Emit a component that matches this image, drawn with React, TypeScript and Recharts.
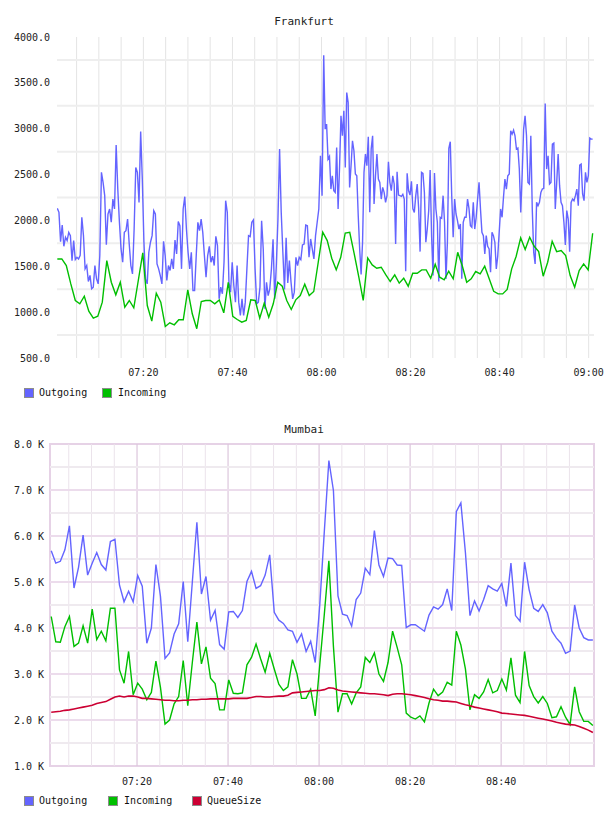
import React from "react";
import { LineChart, Line, XAxis, YAxis, ReferenceLine, ReferenceArea } from "recharts";

// ---- Frankfurt: minutes after 07:00 ----
const FRA_START = 0.67;
const FRA_MID = 60.5;
const FRA_END = 120.9;

// Outgoing rate, first hour (07:00 – 08:00, ends on the 3800 spike)
const fraOutgoingFirstHour = [
  2132, 2088, 1769, 1950, 1718, 1816, 1780, 1870, 1834, 1562, 1780, 1573, 1598, 1580, 1620, 2034,
  1834, 1472, 1508, 1334, 1400, 1254, 1272, 1508, 1363, 1308, 1617, 2524, 2415, 2270, 1736, 2070,
  2125, 1980, 2233, 2125, 2821, 2343, 1980, 1689, 1544, 1870, 1888, 2015, 1743, 1508, 1417, 1906,
  2578, 2524, 2197, 2970, 2451, 1762, 1363, 1308, 1653, 1762, 1834, 2107, 2070, 1526, 1472, 1399,
  1308, 1773, 1617, 1345, 1508, 1454, 1580, 1472, 1787, 1635, 1987, 1943, 1472, 2125, 2259, 1906,
  1653, 1472, 1653, 1236, 1236, 1617, 1980, 1888, 2015, 1870, 1617, 1381, 1617, 1718, 1544, 1610,
  1508, 1827, 1725, 1145, 1272, 1200, 1544, 2215, 2088, 1326, 1218, 1544, 1290, 1109, 1508, 1109,
  964, 1145, 964, 1109, 1472, 1834, 1823, 1980, 2006, 1472, 1091, 1109, 1272, 1997, 1689, 1036,
  1326, 1181, 1254, 1472, 1794, 1145, 1508, 2015, 2778, 2088, 1653, 1247, 1812, 1319, 1562, 1326,
  1145, 1218, 1598, 1508, 1598, 1573, 1733, 1743, 1950, 1943, 1598, 1798, 1689, 1580, 1834, 1980,
  2125, 2705, 2270, 3800,
];

// Outgoing rate, second hour (08:00 – 09:00)
const fraOutgoingSecondHour = [
  2995, 3050, 2669, 2698, 2342, 2487, 2324, 2306, 2796, 2125, 2578, 3140, 2923, 3195, 2578, 3394,
  3286, 2360, 2596, 2868, 2760, 2506, 2487, 2052, 1689, 1410, 1762, 2524, 2723, 2596, 2912, 2088,
  2778, 2923, 2179, 2487, 2723, 2451, 2415, 2233, 2360, 2306, 2197, 2270, 2640, 2415, 2324, 2487,
  2397, 1744, 2531, 2277, 2270, 2263, 2284, 2233, 1446, 2513, 2324, 2277, 2426, 2125, 2088, 2270,
  2397, 2132, 1660, 2524, 2513, 2306, 1762, 1906, 2107, 2549, 1834, 1399, 2516, 2125, 1980, 1334,
  2034, 2023, 2270, 1980, 1363, 1762, 2785, 2858, 2270, 1816, 2233, 2070, 1997, 1906, 1961, 1363,
  1980, 2034, 2034, 2233, 2132, 1943, 1925, 2197, 1906, 2034, 2233, 2415, 2125, 1870, 1834, 1635,
  1834, 1718, 1689, 1435, 1870, 1834, 1762, 1472, 1610, 1870, 2125, 2034, 2252, 2451, 2342, 2487,
  2506, 2977, 2941, 2984, 2923, 2778, 2789, 2560, 2088, 2506, 2995, 3140, 2923, 2415, 2397, 2923,
  2125, 1653, 1526, 2197, 2161, 2197, 2306, 2342, 2350, 3275, 2560, 2705, 2397, 2415, 2832, 2843,
  2125, 2415, 2723, 2379, 2197, 2161, 1980, 1733, 2107, 2015, 1660, 2197, 2233, 2215, 2270, 2342,
  2161, 2603, 2614, 2288, 2215, 2524, 2415, 2487, 2897, 2886, 2886,
];

// Incoming rate, one sample per minute
const fraIncoming = [
  1580, 1580, 1508, 1308, 1127, 1091, 1174, 1011, 934, 956, 1109, 1562, 1326, 1189, 1326, 1054,
  1127, 1047, 1345, 1646, 1072, 902, 1207, 1109, 844, 884, 862, 917, 917, 1243, 982, 819, 1116,
  1127, 1127, 1091, 1134, 993, 1326, 953, 920, 891, 909, 1134, 1127, 934, 1098, 945, 1091, 1326,
  1283, 1127, 1029, 1134, 1181, 1305, 1181, 1225, 1544, 1871, 1780, 1588, 1461, 1598, 1863, 1871,
  1635, 1388, 1127, 1591, 1515, 1479, 1490, 1410, 1334, 1406, 1316, 1370, 1283, 1424, 1424, 1461,
  1461, 1370, 1522, 1381, 1352, 1446, 1363, 1653, 1508, 1326, 1363, 1443, 1417, 1501, 1363, 1228,
  1199, 1199, 1247, 1472, 1610, 1809, 1682, 1816, 1718, 1660, 1392, 1544, 1773, 1660, 1671, 1617,
  1399, 1272, 1454, 1526, 1461, 1860,
];

const fraYTicks = [500, 1000, 1500, 2000, 2500, 3000, 3500, 4000];
const fraGridValues = [750, 1250, 1750, 2250, 2750, 3250, 3750];
const fraTimeTicks = [20, 40, 60, 80, 100, 120];

// ---- Mumbai: one sample per minute from 07:01 ----
const MUM_START = 1.15;

const mumOutgoing = [
  5680, 5410, 5450, 5700, 6220, 4870, 5320, 6020, 5150, 5410,
  5640, 5380, 5260, 5880, 5930, 4930, 4570, 4800, 4570, 5140,
  4910, 3670, 4000, 5380, 4690, 3340, 3460, 3870, 4090, 5010,
  3700, 5000, 6300, 4740, 5120, 4170, 4380, 3640, 3540, 4350,
  4360, 4230, 4380, 5010, 5230, 4860, 4920, 5150, 5590, 4340,
  4170, 4100, 3960, 3930, 3690, 3870, 3490, 3710, 3250, 4500,
  6100, 7640, 6990, 4700, 4300, 4270, 4040, 4620, 4760, 5300,
  5160, 6120, 5370, 5120, 5520, 5510, 5370, 5360, 4010, 4070,
  4070, 4000, 3930, 4280, 4460, 4410, 4510, 4850, 4380, 6530,
  6720, 5640, 4270, 4590, 4370, 4620, 4920, 4850, 4800, 4970,
  4470, 5410, 4270, 4150, 5430, 4830, 4430, 4360, 4510, 4330,
  3930, 3780, 3670, 3450, 3500, 4500, 4000, 3790, 3740, 3740,
];

const mumIncoming = [
  4250, 3700, 3690, 4030, 4250, 3600, 3670, 4050, 3670, 4410,
  3750, 3930, 3720, 4430, 4430, 3090, 2800, 3490, 2550, 2800,
  2670, 2440, 2600, 3280, 2710, 1910, 2000, 2350, 2510, 3290,
  2310, 3250, 4130, 3220, 3590, 2910, 2790, 2220, 2220, 2870,
  2580, 2570, 2590, 3200, 3360, 3650, 3330, 3040, 3450, 3110,
  2780, 2640, 2720, 3310, 3000, 2470, 2470, 2670, 2090, 3200,
  4300, 5460, 3600, 2170, 2570, 2570, 2350, 2590, 2720, 3360,
  3250, 3460, 3000, 2840, 3250, 3930, 3580, 3200, 2150, 2060,
  2020, 2090, 1960, 2370, 2670, 2530, 2610, 2820, 2760, 3930,
  3630, 3110, 2220, 2550, 2470, 2610, 2880, 2590, 2640, 2890,
  2650, 3350, 2540, 2380, 3490, 2750, 2510, 2370, 2510, 2360,
  2050, 2070, 2290, 2060, 1900, 2720, 2180, 1970, 1970, 1880,
];

const mumQueueSize = [
  2170, 2180, 2190, 2210, 2220, 2240, 2260, 2280, 2300, 2320,
  2360, 2380, 2400, 2450, 2500, 2520, 2500, 2520, 2520, 2500,
  2470, 2470, 2460, 2450, 2440, 2430, 2430, 2420, 2420, 2430,
  2430, 2440, 2440, 2450, 2450, 2460, 2460, 2460, 2460, 2460,
  2470, 2470, 2470, 2470, 2490, 2510, 2510, 2500, 2500, 2510,
  2520, 2520, 2540, 2590, 2600, 2610, 2620, 2630, 2640, 2640,
  2660, 2700, 2690, 2650, 2630, 2620, 2610, 2600, 2590, 2580,
  2570, 2570, 2560, 2550, 2530, 2560, 2570, 2570, 2560, 2550,
  2530, 2510, 2490, 2460, 2440, 2430, 2410, 2410, 2400, 2390,
  2360, 2330, 2310, 2280, 2260, 2240, 2220, 2200, 2180, 2150,
  2140, 2130, 2120, 2110, 2100, 2080, 2060, 2040, 2020, 2000,
  1980, 1950, 1930, 1910, 1900, 1890, 1860, 1820, 1780, 1730,
];

const mumYTicks = [1000, 2000, 3000, 4000, 5000, 6000, 7000, 8000];
const mumHalfGrid = [1500, 2500, 3500, 4500, 5500, 6500, 7500];
const mumWholeGrid = [2000, 3000, 4000, 5000, 6000, 7000];
const mumTimeTicks = [20, 40, 60, 80, 100];

// ---- helpers ----
const FONT = '"DejaVu Sans Mono", monospace';
const BLUE = "#6464ff";
const GREEN = "#00bf00";
const RED = "#cc0033";

type Pt = { t: number; v: number };

const spread = (values: number[], from: number, to: number, includeFrom = true): Pt[] => {
  const n = values.length;
  return values.map((v, i) => {
    const t = includeFrom
      ? from + (i * (to - from)) / (n - 1)
      : from + ((i + 1) * (to - from)) / n;
    return { t, v };
  });
};

const perMinute = (values: number[], from: number): Pt[] => values.map((v, i) => ({ t: from + i, v }));

const fraOutSeries = [
  ...spread(fraOutgoingFirstHour, FRA_START, FRA_MID),
  ...spread(fraOutgoingSecondHour, FRA_MID, FRA_END, false),
];
const fraInSeries = spread(fraIncoming, FRA_START, FRA_END);
const mumOutSeries = perMinute(mumOutgoing, MUM_START);
const mumInSeries = perMinute(mumIncoming, MUM_START);
const mumQueueSeries = perMinute(mumQueueSize, MUM_START);

const clock = (m: number) => {
  const h = 7 + Math.floor(m / 60);
  const mm = Math.round(m % 60);
  return `${String(h).padStart(2, "0")}:${String(mm).padStart(2, "0")}`;
};

const range = (a: number, b: number, step: number) => {
  const out: number[] = [];
  for (let x = a; x <= b; x += step) out.push(x);
  return out;
};

const tickStyle = { fontFamily: FONT, fontSize: 10, fill: "#222" };

type LegendItem = { label: string; color: string; box: number; text: number };

const Legend = ({ top, items }: { top: number; items: LegendItem[] }) => (
  <>
    {items.map((it) => (
      <React.Fragment key={it.label}>
        <div
          style={{
            position: "absolute",
            left: it.box,
            top,
            width: 8,
            height: 8,
            background: it.color,
            border: "1px solid #8c8c8c",
          }}
        />
        <div
          style={{
            position: "absolute",
            left: it.text,
            top: top - 2,
            fontFamily: FONT,
            fontSize: 10,
            lineHeight: "14px",
            color: "#111",
            whiteSpace: "pre",
          }}
        >
          {it.label}
        </div>
      </React.Fragment>
    ))}
  </>
);

const Title = ({ top, text }: { top: number; text: string }) => (
  <div
    style={{
      position: "absolute",
      left: 0,
      top,
      width: 608,
      textAlign: "center",
      fontFamily: FONT,
      fontSize: 11,
      lineHeight: "14px",
      color: "#222",
    }}
  >
    {text}
  </div>
);

export default function App() {
  return (
    <div style={{ position: "absolute", left: 0, top: 0, width: 608, height: 816, background: "#fff" }}>
      <Title top={15} text="Frankfurt" />
      <div style={{ position: "absolute", left: 0, top: 0 }}>
        <LineChart width={608} height={400} margin={{ top: 37, right: 14, bottom: 12, left: 7 }}>
          <XAxis
            type="number"
            dataKey="t"
            domain={[0.6, 121.2]}
            allowDataOverflow
            ticks={fraTimeTicks}
            interval={0}
            tickFormatter={clock}
            axisLine={false}
            tickLine={false}
            tickSize={8}
            tickMargin={3}
            height={30}
            tick={tickStyle}
          />
          <YAxis
            type="number"
            domain={[500, 4000]}
            allowDataOverflow
            ticks={fraYTicks}
            interval={0}
            width={50}
            axisLine={false}
            tickLine={false}
            tickSize={6}
            tickMargin={1}
            tickFormatter={(v: number) => v.toFixed(1)}
            tick={tickStyle}
          />
          {range(5, 120, 5).map((m) => (
            <ReferenceLine key={`fv${m}`} x={m} stroke="#e4e4e4" strokeWidth={1} />
          ))}
          {fraGridValues.map((v) => (
            <ReferenceLine key={`fh${v}`} y={v} stroke="#eeeeee" strokeWidth={2} />
          ))}
          <Line
            data={fraOutSeries}
            dataKey="v"
            name="Outgoing"
            type="linear"
            stroke={BLUE}
            strokeWidth={1.4}
            dot={false}
            isAnimationActive={false}
          />
          <Line
            data={fraInSeries}
            dataKey="v"
            name="Incoming"
            type="linear"
            stroke={GREEN}
            strokeWidth={1.4}
            dot={false}
            isAnimationActive={false}
          />
        </LineChart>
      </div>
      <Legend
        top={388}
        items={[
          { label: "Outgoing", color: BLUE, box: 24, text: 39 },
          { label: "Incoming", color: GREEN, box: 102, text: 118 },
        ]}
      />

      <Title top={423} text="Mumbai" />
      <div style={{ position: "absolute", left: 0, top: 400 }}>
        <LineChart width={608} height={416} margin={{ top: 44, right: 14, bottom: 20, left: 6 }}>
          <XAxis
            type="number"
            dataKey="t"
            domain={[0.88, 120.4]}
            allowDataOverflow
            ticks={mumTimeTicks}
            interval={0}
            tickFormatter={clock}
            axisLine={false}
            tickLine={false}
            tickSize={8}
            tickMargin={4}
            height={30}
            tick={tickStyle}
          />
          <YAxis
            type="number"
            domain={[1000, 8000]}
            allowDataOverflow
            ticks={mumYTicks}
            interval={0}
            width={44}
            axisLine={false}
            tickLine={false}
            tickSize={4}
            tickMargin={2}
            tickFormatter={(v: number) => `${(v / 1000).toFixed(1)} K`}
            tick={tickStyle}
          />
          {range(5, 115, 5)
            .filter((m) => m % 20 !== 0)
            .map((m) => (
              <ReferenceLine key={`mv${m}`} x={m} stroke="#ebe3eb" strokeWidth={1} />
            ))}
          {mumTimeTicks.map((m) => (
            <ReferenceLine key={`mV${m}`} x={m} stroke="#dcc6dc" strokeWidth={1.2} />
          ))}
          {mumHalfGrid.map((v) => (
            <ReferenceLine key={`mh${v}`} y={v} stroke="#efeaef" strokeWidth={2} />
          ))}
          {mumWholeGrid.map((v) => (
            <ReferenceLine key={`mH${v}`} y={v} stroke="#ecdcec" strokeWidth={2} />
          ))}
          <ReferenceArea
            x1={0.88}
            x2={120.4}
            y1={1000}
            y2={8000}
            fill="none"
            fillOpacity={0}
            stroke="#e6d2e6"
            strokeWidth={2}
          />
          <Line
            data={mumOutSeries}
            dataKey="v"
            name="Outgoing"
            type="linear"
            stroke={BLUE}
            strokeWidth={1.4}
            dot={false}
            isAnimationActive={false}
          />
          <Line
            data={mumInSeries}
            dataKey="v"
            name="Incoming"
            type="linear"
            stroke={GREEN}
            strokeWidth={1.4}
            dot={false}
            isAnimationActive={false}
          />
          <Line
            data={mumQueueSeries}
            dataKey="v"
            name="QueueSize"
            type="linear"
            stroke={RED}
            strokeWidth={1.6}
            dot={false}
            isAnimationActive={false}
          />
        </LineChart>
      </div>
      <Legend
        top={796}
        items={[
          { label: "Outgoing", color: BLUE, box: 24, text: 39 },
          { label: "Incoming", color: GREEN, box: 108, text: 124 },
          { label: "QueueSize", color: RED, box: 192, text: 207 },
        ]}
      />
    </div>
  );
}
